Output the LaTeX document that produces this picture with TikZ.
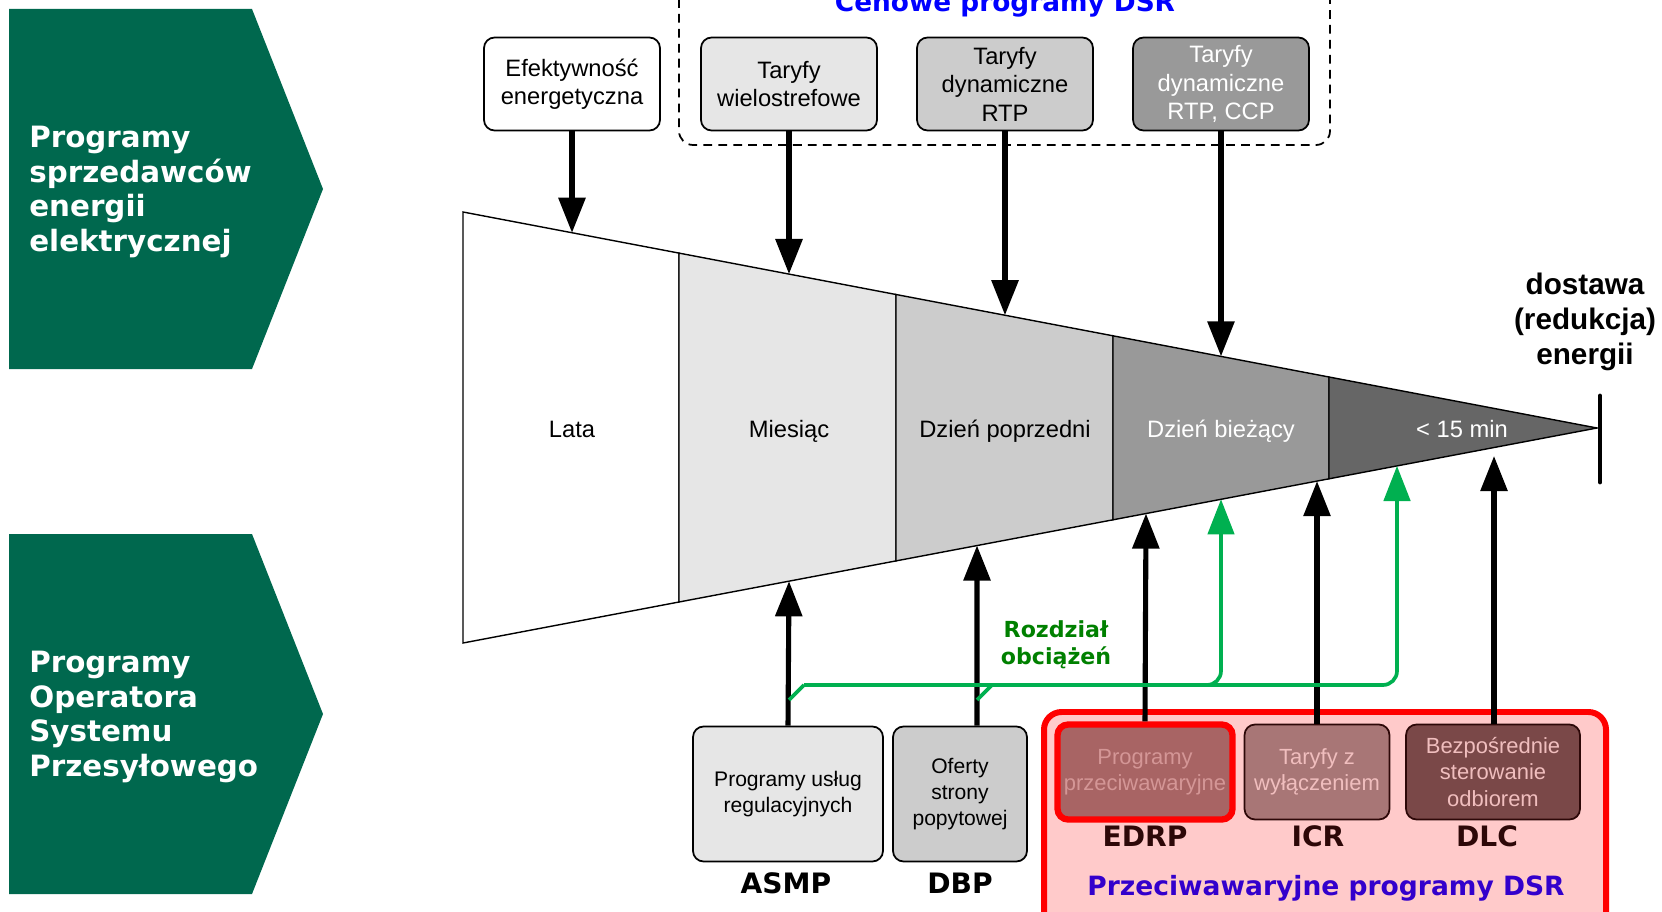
\documentclass[tikz,border=0pt]{standalone}
\usepackage{fontspec}
\setmainfont{Liberation Sans}
\newfontfamily\verdfont{DejaVu Sans}
\usetikzlibrary{arrows.meta,positioning}

\definecolor{chevgreen}{RGB}{0,104,78}
\definecolor{flowgreen}{RGB}{0,176,80}
\definecolor{textgreen}{RGB}{0,128,0}
\definecolor{secb}{HTML}{E6E6E6}
\definecolor{secc}{HTML}{CCCCCC}
\definecolor{secd}{HTML}{999999}
\definecolor{sece}{HTML}{666666}
\definecolor{pinkbg}{RGB}{255,202,202}
\definecolor{edrpfill}{RGB}{168,100,100}
\definecolor{icrfill}{RGB}{168,118,118}
\definecolor{dlcfill}{RGB}{122,72,72}
\definecolor{paletext}{RGB}{240,190,190}
\definecolor{fadedtext}{RGB}{212,150,150}
\definecolor{maroon}{RGB}{45,8,8}
\definecolor{dsrblue}{RGB}{51,0,204}

\tikzset{
  sidetext/.style={anchor=west, align=left, inner sep=0pt, text=white,
    font=\verdfont\bfseries\fontsize{16.7}{19.8}\selectfont},
  sec/.style={draw, line width=0.8pt},
  seclabel/.style={anchor=base, font=\fontsize{13.5}{16.2}\selectfont},
  topbox/.style={draw, line width=1pt, rounded corners=6pt, align=center,
    minimum width=3.52cm, minimum height=1.86cm, inner sep=1pt,
    font=\fontsize{13.5}{16.2}\selectfont},
  botbox/.style={draw, line width=1pt, rounded corners=6pt, align=center,
    minimum height=2.7cm, inner sep=1pt, font=\fontsize{12}{15}\selectfont},
  redbox/.style={draw=maroon, line width=1pt, rounded corners=6pt, align=center,
    minimum height=1.9cm, inner sep=1pt, text=paletext,
    font=\fontsize{12.5}{15}\selectfont},
  acro/.style={font=\verdfont\bfseries\fontsize{16}{19}\selectfont},
  arr/.style={line width=2.9pt, -{Triangle[length=20pt,width=15pt]}},
  gline/.style={draw=flowgreen, line width=2.1pt},
  garr/.style={gline, rounded corners=8pt, -{Triangle[length=20pt,width=15pt]}},
}

\begin{document}
\begin{tikzpicture}[x=0.02cm, y=-0.02cm]
\useasboundingbox (0,0) rectangle (1662,912);

% green side panels
\fill[chevgreen] (9,9) -- (252,9) -- (323,189) -- (252,369) -- (9,369) -- cycle;
\fill[chevgreen] (9,534) -- (252,534) -- (323,714) -- (252,894) -- (9,894) -- cycle;
\node[sidetext] (sprzed) at (29,192) {Programy\\sprzedawców\\energii\\elektrycznej};
\node[sidetext] (osp) at (29,717) {Programy\\Operatora\\Systemu\\Przesyłowego};

% funnel
\filldraw[sec, fill=white] (463,212) -- (679,253.1) -- (679,602.0) -- (463,643) -- cycle;
\filldraw[sec, fill=secb] (679,253.1) -- (896,294.5) -- (896,560.9) -- (679,602.0) -- cycle;
\filldraw[sec, fill=secc] (896,294.5) -- (1113,335.8) -- (1113,519.8) -- (896,560.9) -- cycle;
\filldraw[sec, fill=secd] (1113,335.8) -- (1329,377.0) -- (1329,478.8) -- (1113,519.8) -- cycle;
\filldraw[sec, fill=sece] (1329,377.0) -- (1597,428) -- (1329,478.8) -- cycle;

\node[seclabel] (lata) at (572,437) {Lata};
\node[seclabel] (mies) at (789,437) {Miesiąc};
\node[seclabel] (dpop) at (1005,437) {Dzień poprzedni};
\node[seclabel, text=white] (dbiez) at (1221,437) {Dzień bieżący};
\node[seclabel, text=white] (min15) at (1462,437) {< 15 min};

% end of delivery
\draw[line width=2.8pt, line cap=round] (1600,396) -- (1600,482);
\node[align=center, font=\bfseries\fontsize{16.9}{20}\selectfont] (dostawa) at (1585,322)
  {dostawa\\(redukcja)\\energii};

% price programmes
\draw[dashed, line width=1pt, dash pattern=on 5pt off 3.5pt, rounded corners=8pt]
  (679,-30) rectangle (1330,145);
\node[anchor=base, text=blue, font=\verdfont\bfseries\fontsize{15}{18}\selectfont]
  (cenowe) at (1005,12) {Cenowe programy DSR};

\node[topbox, fill=white] (efekt) at (572,84) {Efektywność\\energetyczna};
\node[topbox, fill=secb] (wiel) at (789,84) {Taryfy\\wielostrefowe};
\node[topbox, fill=secc] (rtp) at (1005,84) {Taryfy\\dynamiczne\\RTP};
\node[topbox, fill=secd, text=white] (ccp) at (1221,84) {Taryfy\\dynamiczne\\RTP, CCP};

\coordinate (t1) at (572,232.8);
\coordinate (t2) at (789,274.1);
\coordinate (t3) at (1005,315.2);
\coordinate (t4) at (1221,356.4);
\draw[arr] (efekt) -- (t1);
\draw[arr] (wiel) -- (t2);
\draw[arr] (rtp) -- (t3);
\draw[arr] (ccp) -- (t4);

% emergency programmes
\draw[red, fill=pinkbg, line width=3.4pt, rounded corners=10pt] (1044,712) rectangle (1606,940);
\node[redbox, fill=edrpfill, draw=red, line width=3.6pt, minimum width=3.5cm, text=fadedtext]
  (edrp) at (1145,772) {Programy\\przeciwawaryjne};
\node[redbox, fill=icrfill, minimum width=2.9cm] (icr) at (1317,772) {Taryfy z\\wyłączeniem};
\node[redbox, fill=dlcfill, minimum width=3.48cm] (dlc) at (1493,772)
  {Bezpośrednie\\sterowanie\\odbiorem};
\node[acro, text=maroon] (edrpl) at (1145,836) {EDRP};
\node[acro, text=maroon] (icrl) at (1318,836) {ICR};
\node[acro, text=maroon] (dlcl) at (1487,836) {DLC};
\node[text=dsrblue, font=\verdfont\bfseries\fontsize{15.1}{18}\selectfont] (przeciw) at (1326,888)
  {Przeciwawaryjne programy DSR};

% system operator programmes
\node[botbox, fill=secb, minimum width=3.8cm] (asmp) at (788,794) {Programy usług\\regulacyjnych};
\node[botbox, fill=secc, minimum width=2.68cm] (dbp) at (960,794) {Oferty\\strony\\popytowej};
\node[acro] (asmpl) at (786,883) {ASMP};
\node[acro] (dbpl) at (960,883) {DBP};

\coordinate (b1) at (789,581.2);
\coordinate (b2) at (977,545.5);
\coordinate (b3) at (1146,513.5);
\coordinate (b4) at (1317,481.1);
\coordinate (b5) at (1494,456);
\draw[arr] (asmp.north) -- (b1);
\draw[arr] ([xshift=0.34cm]dbp.north) -- (b2);
\draw[arr] (edrp.north) -- (b3);
\draw[arr] (icr.north) -- (b4);
\draw[arr] ([xshift=0.02cm]dlc.north) -- (b5);

% load sharing
\coordinate (g0) at (789,700);
\coordinate (g1) at (977,700);
\coordinate (gj) at (804,685);
\coordinate (gt1) at (1221,499.3);
\coordinate (gt2) at (1397,465.9);
\draw[gline] (g0) -- (gj);
\draw[gline] (g1) -- (992,685);
\draw[garr] (gj) -- (1221,685) -- (gt1);
\draw[garr] (1190,685) -- (1397,685) -- (gt2);
\node[align=center, text=textgreen, font=\verdfont\bfseries\fontsize{12.6}{15.5}\selectfont]
  (rozdz) at (1056,645) {Rozdział\\obciążeń};
\end{tikzpicture}
\end{document}
